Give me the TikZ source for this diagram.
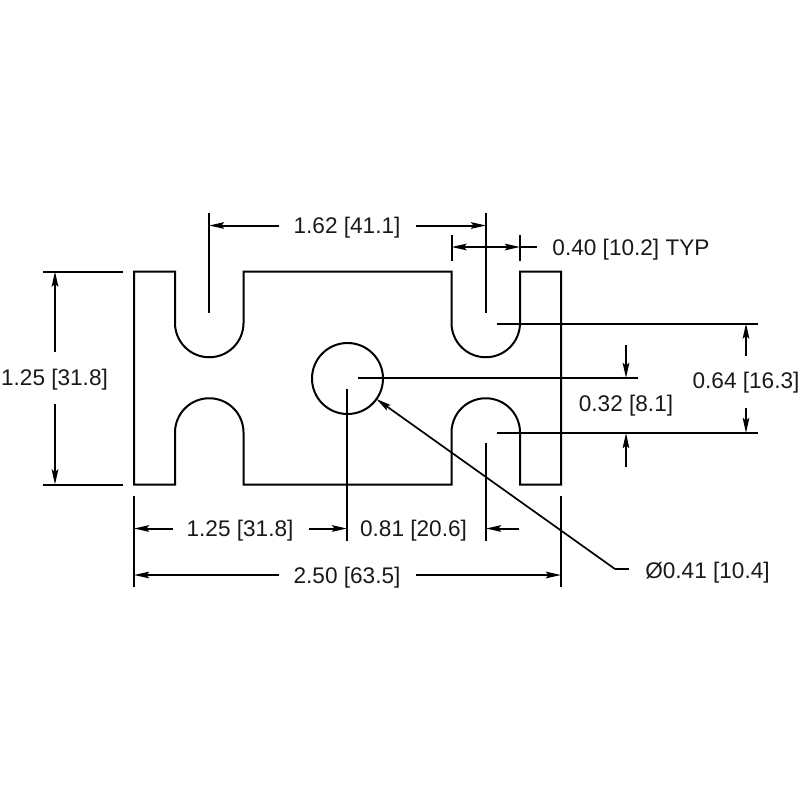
\documentclass[tikz,border=0pt]{standalone}
\usepackage{fontspec}
\setmainfont{Liberation Sans}
\usetikzlibrary{arrows.meta}
\tikzset{
  tip/.tip={Stealth[length=15pt,width=6.5pt,inset=2.5pt]},
  part/.style={line width=2pt,line join=miter},
  extline/.style={line width=2pt},
  dimline/.style={line width=2pt,-tip},
  dimboth/.style={line width=2pt,tip-tip},
  leader/.style={line width=1.7pt},
  dimtext/.style={anchor=base,inner sep=0pt,font=\fontsize{22.6}{24}\selectfont,text=black!90}
}
\begin{document}
\begin{tikzpicture}[x=1pt,y=-1pt]
\useasboundingbox (0,0) rectangle (800,800);
% part outline
\draw[part] (134,271.5) -- (175,271.5) -- (175,323) arc[start angle=180,end angle=0,radius=34.25]
  -- (243.5,271.5) -- (451.5,271.5) -- (451.5,323) arc[start angle=180,end angle=0,radius=34.25]
  -- (520,271.5) -- (561,271.5) -- (561,484.5) -- (520,484.5) -- (520,432.5) arc[start angle=0,end angle=-180,radius=34.25]
  -- (451.5,484.5) -- (243.5,484.5) -- (243.5,432.5) arc[start angle=0,end angle=-180,radius=34.25]
  -- (175,484.5) -- (134,484.5) -- cycle;
\coordinate (hc) at (347.5,378.5);
\draw[part] (hc) circle[radius=35.5];
% extension lines
\draw[extline] (209,213) -- (209,313);
\draw[extline] (486,213) -- (486,313);
\draw[extline] (451.5,235) -- (451.5,261);
\draw[extline] (520,235) -- (520,261);
\draw[extline] (497,323.5) -- (758,323.5);
\draw[extline] (497,433) -- (758,433);
\draw[extline] (358,378) -- (638,378);
\draw[extline] (347,389) -- (347,540.5);
\draw[extline] (134,496) -- (134,587);
\draw[extline] (561,496) -- (561,587);
\draw[extline] (486,443) -- (486,540.5);
\draw[extline] (43,271.5) -- (123,271.5);
\draw[extline] (43,484.5) -- (123,484.5);
% labels
\node[dimtext] (a) at (347,233) {1.62 [41.1]};
\node[dimtext] (b) at (631,255) {0.40 [10.2] TYP};
\node[dimtext] (c) at (746,388) {0.64 [16.3]};
\node[dimtext] (d) at (626,411) {0.32 [8.1]};
\node[dimtext] (e) at (54.5,385) {1.25 [31.8]};
\node[dimtext] (f) at (240,536) {1.25 [31.8]};
\node[dimtext] (g) at (413.5,536) {0.81 [20.6]};
\node[dimtext] (h) at (347,583) {2.50 [63.5]};
\node[dimtext] (i) at (707.5,578) {Ø0.41 [10.4]};
% dimension arrows
\draw[dimline] (279,225.5) -- (209,225.5);
\draw[dimline] (416,225.5) -- (486,225.5);
\draw[dimboth] (451.5,247) -- (520,247);
\draw[extline] (520,247) -- (537,247);
\draw[dimline] (626,345) -- (626,378);
\draw[dimline] (626,467) -- (626,433);
\draw[dimline] (746,356) -- (746,323.5);
\draw[dimline] (746,408) -- (746,433);
\draw[dimline] (55,352) -- (55,271.5);
\draw[dimline] (55,404) -- (55,484.5);
\draw[dimline] (173,528.5) -- (134,528.5);
\draw[dimline] (309,528.5) -- (347,528.5);
\draw[dimline] (519,528.5) -- (486,528.5);
\draw[dimline] (279,575) -- (134,575);
\draw[dimline] (416,575) -- (561,575);
% leader
\coordinate (lk) at (615,569);
\draw[leader,-tip] (lk) -- (376.4,399);
\draw[leader] (lk) -- (629,569);
\end{tikzpicture}
\end{document}
